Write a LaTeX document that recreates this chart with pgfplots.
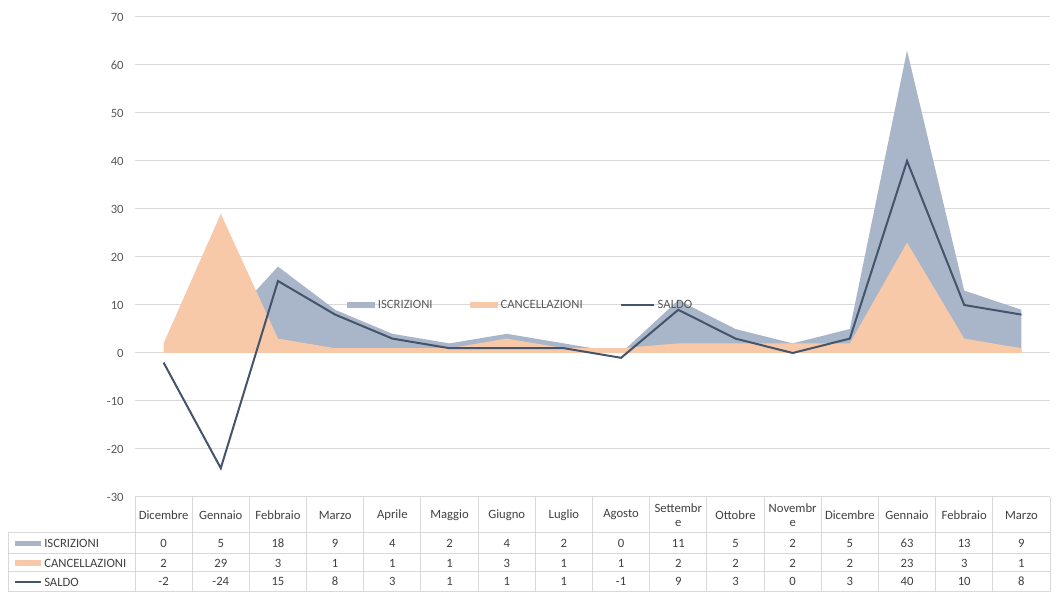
\documentclass[border=0pt]{standalone}
\usepackage{fontspec}
\setmainfont{Carlito}
\usepackage{pgfplots}
\pgfplotsset{compat=1.18}
\usepackage{pgfplotstable}
\definecolor{iscr}{HTML}{A9B5C9}
\definecolor{canc}{HTML}{F7C9A9}
\definecolor{saldo}{HTML}{44546A}
\definecolor{gridc}{HTML}{D9D9D9}
\definecolor{txt}{HTML}{595959}
\definecolor{txtd}{HTML}{404040}

\pgfplotsset{
  arealeg/.style={legend image code/.code={\fill[##1] (0pt,-2.6pt) rectangle (21pt,2.6pt);}},
  lineleg/.style={legend image code/.code={\draw[##1] (0pt,0pt) -- (24.75pt,0pt);}},
}

\pgfplotstableread{
x iscr canc saldo
0 0 2 -2
1 5 29 -24
2 18 3 15
3 9 1 8
4 4 1 3
5 2 1 1
6 4 3 1
7 2 1 1
8 0 1 -1
9 11 2 9
10 5 2 3
11 2 2 0
12 5 2 3
13 63 23 40
14 13 3 10
15 9 1 8
}\data

\newcommand{\tf}{\fontsize{9.5}{10.5}\selectfont}

\begin{document}
\begin{tikzpicture}
\path[use as bounding box] (0,0) rectangle (793.5pt,444.75pt);
\begin{axis}[
  at={(101.25pt,72pt)}, anchor=south west,
  scale only axis, width=686.25pt, height=360pt,
  xmin=-0.5, xmax=15.5, ymin=-30, ymax=70,
  ytick={-30,-20,...,70},
  xtick={0,...,15},
  xticklabels={Dicembre,Gennaio,Febbraio,Marzo,Aprile,Maggio,Giugno,Luglio,Agosto,{Settembr\\e},Ottobre,{Novembr\\e},Dicembre,Gennaio,Febbraio,Marzo},
  xticklabel style={anchor=center, yshift=-13.5pt, align=center, font=\tf, text=txtd},
  yticklabel style={font=\tf, text=txt, xshift=-5pt},
  /pgf/number format/assume math mode=true,
  ymajorgrids, grid style={gridc, line width=0.75pt},
  axis line style={draw=none},
  major tick length=0pt,
  clip=false,
  legend columns=3,
  legend style={at={(rel axis cs:0.2317,0.4)}, anchor=west, draw=none, fill=none,
    inner sep=0pt, font=\tf, text=txt,
    /tikz/every even column/.append style={column sep=26pt}},
]
\addplot[fill=iscr, draw=none, arealeg]
  table[x=x,y=iscr] {\data} \closedcycle;
\addlegendentry{ISCRIZIONI}
\addplot[fill=canc, draw=none, arealeg]
  table[x=x,y=canc] {\data} \closedcycle;
\addlegendentry{CANCELLAZIONI}
\addplot[saldo, line width=1.5pt, mark=none, lineleg]
  table[x=x,y=saldo] {\data};
\addlegendentry{SALDO}

\addplot[draw=none, mark=none, forget plot, nodes near coords, point meta=explicit symbolic,
  nodes near coords style={anchor=center, font=\tf, text=txtd}]
  table[x=x, y expr=-39.69, meta=iscr] {\data};
\addplot[draw=none, mark=none, forget plot, nodes near coords, point meta=explicit symbolic,
  nodes near coords style={anchor=center, font=\tf, text=txtd}]
  table[x=x, y expr=-43.75, meta=canc] {\data};
\addplot[draw=none, mark=none, forget plot, nodes near coords, point meta=explicit symbolic,
  nodes near coords style={anchor=center, font=\tf, text=txtd}]
  table[x=x, y expr=-47.6, meta=saldo] {\data};
\end{axis}

\begin{scope}[x=0.75pt, y=-0.75pt, yshift=444.75pt]
  \draw[gridc, line width=0.75pt] (135,497) -- (1050,497);
  \foreach \yy in {533,554,572,592} {\draw[gridc, line width=0.75pt] (8,\yy) -- (1050,\yy);}
  \foreach \k in {0,...,16} {\draw[gridc, line width=0.75pt] (135+57.1875*\k,497) -- (135+57.1875*\k,592);}
  \draw[gridc, line width=0.75pt] (8,533) -- (8,592);
  \fill[iscr] (15,541) rectangle (41,546.5);
  \node[anchor=west, font=\tf, text=txtd, inner sep=0pt] at (44,543.5) {ISCRIZIONI};
  \fill[canc] (15,560.5) rectangle (41,566);
  \node[anchor=west, font=\tf, text=txtd, inner sep=0pt] at (44,563) {CANCELLAZIONI};
  \draw[saldo, line width=1.5pt] (15,582) -- (41,582);
  \node[anchor=west, font=\tf, text=txtd, inner sep=0pt] at (44,582) {SALDO};
\end{scope}
\end{tikzpicture}
\end{document}
